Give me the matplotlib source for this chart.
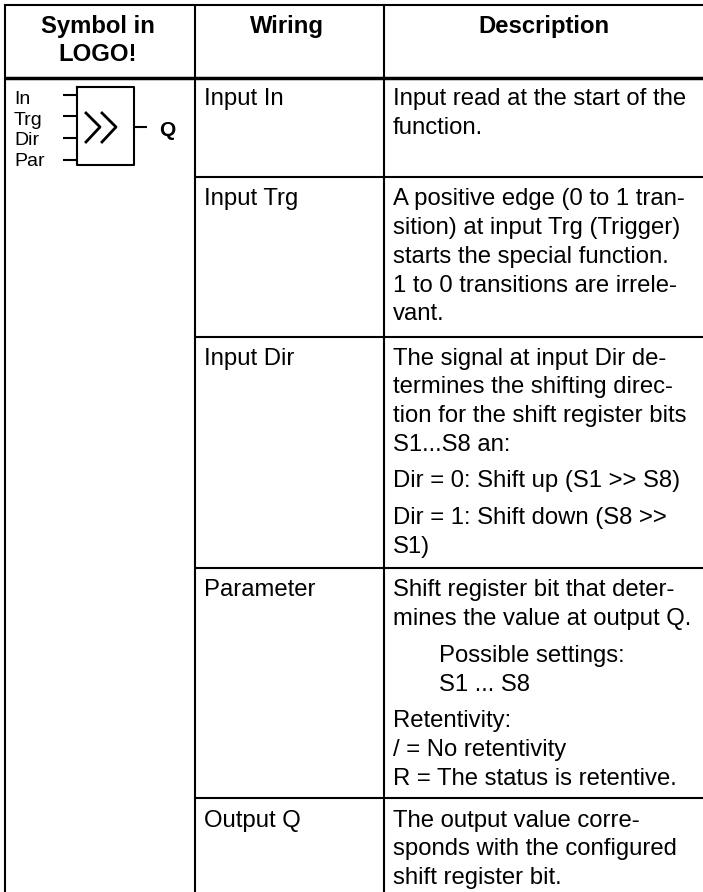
import matplotlib
matplotlib.use('Agg')
from matplotlib import pyplot as plt

WIDTH = 703
HEIGHT = 892

WIRING = ['Input In', 'Input Trg', 'Input Dir', 'Parameter', 'Output Q']
WIRING_Y = [105, 205, 365, 596, 827]
ROW_LINES = [177, 337, 568, 798]
SYMBOL_INPUTS = ['In', 'Trg', 'Dir', 'Par']

LEFT = 393
INDENT = 439
DESCRIPTIONS = [
    (LEFT, 105, 'Input read at the start of the'),
    (LEFT, 134, 'function.'),
    (LEFT, 205, 'A positive edge (0 to 1 tran-'),
    (LEFT, 234, 'sition) at input Trg (Trigger)'),
    (LEFT, 263, 'starts the special function.'),
    (LEFT, 292, '1 to 0 transitions are irrele-'),
    (LEFT, 320, 'vant.'),
    (LEFT, 365, 'The signal at input Dir de-'),
    (LEFT, 393, 'termines the shifting direc-'),
    (LEFT, 422, 'tion for the shift register bits'),
    (LEFT, 451, 'S1...S8 an:'),
    (LEFT, 487, 'Dir = 0: Shift up (S1 >> S8)'),
    (LEFT, 524, 'Dir = 1: Shift down (S8 >>'),
    (LEFT, 553, 'S1)'),
    (LEFT, 596, 'Shift register bit that deter-'),
    (LEFT, 625, 'mines the value at output Q.'),
    (INDENT, 662, 'Possible settings:'),
    (INDENT, 691, 'S1 ... S8'),
    (LEFT, 727, 'Retentivity:'),
    (LEFT, 756, '/ = No retentivity'),
    (LEFT, 785, 'R = The status is retentive.'),
    (LEFT, 827, 'The output value corre-'),
    (LEFT, 855, 'sponds with the configured'),
    (LEFT, 884, 'shift register bit.'),
]

plt.rcParams['font.family'] = ['Liberation Sans', 'DejaVu Sans']

fig = plt.figure(figsize=(WIDTH / 100, HEIGHT / 100), dpi=100)
ax = fig.add_axes([0, 0, 1, 1])
ax.set_xlim(0, WIDTH)
ax.set_ylim(HEIGHT, 0)
ax.axis('off')

# grid
ax.plot([4, 703], [5, 5], 'k-', lw=1.5, solid_capstyle='butt')
ax.plot([4, 703], [78, 78], 'k-', lw=2.5, solid_capstyle='butt')
ax.plot([5, 5], [4, 892], 'k-', lw=1.5, solid_capstyle='butt')
ax.plot([195, 195], [4, 892], 'k-', lw=1.5, solid_capstyle='butt')
ax.plot([384, 384], [4, 892], 'k-', lw=1.5, solid_capstyle='butt')
for y in ROW_LINES:
    ax.plot([195, 703], [y, y], 'k-', lw=1.5, solid_capstyle='butt')

# header
ax.text(98, 33, 'Symbol in', fontsize=17.2, fontweight='bold', ha='center', va='baseline')
ax.text(98, 61, 'LOGO!', fontsize=17.2, fontweight='bold', ha='center', va='baseline')
ax.text(287, 33, 'Wiring', fontsize=17.2, fontweight='bold', ha='center', va='baseline')
ax.text(544, 33, 'Description', fontsize=17.2, fontweight='bold', ha='center', va='baseline')

# body
for y, label in zip(WIRING_Y, WIRING):
    ax.text(204.5, y, label, fontsize=17.2, va='baseline')
for x, y, line in DESCRIPTIONS:
    ax.text(x, y, line, fontsize=17.2, va='baseline')

# symbol
ax.plot([77, 134, 134, 77, 77], [87, 87, 165, 165, 87], 'k-', lw=1.5)
for y in [95, 116, 138, 160]:
    ax.plot([63, 77], [y, y], 'k-', lw=1.5, solid_capstyle='butt')
ax.plot([134, 147], [127, 127], 'k-', lw=1.5, solid_capstyle='butt')
ax.plot([86, 100, 86], [113, 127, 142], 'k-', lw=2)
ax.plot([102, 116, 102], [113, 127, 142], 'k-', lw=2)
ax.text(167, 136, 'Q', fontsize=15, fontweight='bold', ha='center', va='baseline')
for y, label in zip([104, 125, 145, 166], SYMBOL_INPUTS):
    ax.text(14, y, label, fontsize=14, va='baseline')

fig.savefig('out.png', dpi=100)
